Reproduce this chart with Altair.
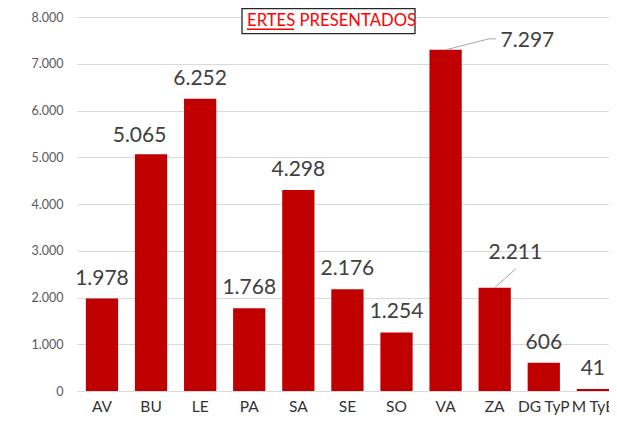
import altair as alt
import pandas as pd

categories = ["AV", "BU", "LE", "PA", "SA", "SE", "SO", "VA", "ZA", "DG TyP", "M TyE"]
values = [1978, 5065, 6252, 1768, 4298, 2176, 1254, 7297, 2211, 606, 41]
y_ticks = [0, 1000, 2000, 3000, 4000, 5000, 6000, 7000, 8000]
title_text = "ERTES PRESENTADOS"

df = pd.DataFrame({"cat": categories, "v": values})

FONT = "Lato"
BAR = "#C00000"
LABEL = "#404040"
LEADER = "#A6A6A6"

xscale = alt.Scale(paddingInner=0.343, paddingOuter=0.0901, align=1)
xaxis = alt.Axis(labelAngle=0, ticks=False, domain=False, grid=False,
                 labelFont=FONT, labelFontSize=15.5, labelColor="#333333",
                 labelPadding=8)

x_enc = alt.X("cat:N", sort=categories, title=None, bandPosition=0.5,
              scale=xscale, axis=xaxis)
x_bar = alt.X("cat:N", sort=categories, title=None, scale=xscale, axis=xaxis)
y_enc = alt.Y(
    "v:Q", title=None,
    scale=alt.Scale(domain=[0, 8000], nice=False),
    axis=alt.Axis(values=y_ticks,
                  labelExpr="replace(format(datum.value, ','), ',', '.')",
                  ticks=False, domain=False, gridColor="#D9D9D9", gridWidth=1,
                  labelFont=FONT, labelFontSize=12.5, labelColor="#595959",
                  labelPadding=14),
)

base = alt.Chart(df).transform_calculate(
    lbl="replace(format(datum.v, ','), ',', '.')"
)

bars = base.mark_bar(color=BAR).encode(x=x_bar, y=y_enc)

lab_main = base.transform_filter(
    "indexof(['BU','VA','ZA'], datum.cat) < 0"
).mark_text(font=FONT, fontSize=21, color=LABEL, baseline="alphabetic", dy=-14).encode(
    x=x_enc, y=y_enc, text="lbl:N"
)

lab_bu = base.transform_filter("datum.cat == 'BU'").mark_text(
    font=FONT, fontSize=21, color=LABEL, baseline="alphabetic", dy=-12.7, dx=-11.5
).encode(x=x_enc, y=y_enc, text="lbl:N")

lab_va = base.transform_filter("datum.cat == 'VA'").mark_text(
    font=FONT, fontSize=21, color=LABEL, baseline="alphabetic", align="left",
    dy=-2.6, dx=55
).encode(x=x_enc, y=y_enc, text="lbl:N")

lab_za = base.transform_filter("datum.cat == 'ZA'").mark_text(
    font=FONT, fontSize=21, color=LABEL, baseline="alphabetic", dy=-29, dx=20.7
).encode(x=x_enc, y=y_enc, text="lbl:N")

lead_va1 = base.transform_filter("datum.cat == 'VA'").mark_rule(
    color=LEADER, strokeWidth=1, x2Offset=43.3, y2Offset=-11
).encode(x=x_enc, y=y_enc, x2=alt.X2("cat", bandPosition=0.5), y2=alt.Y2("v"))

lead_va2 = base.transform_filter("datum.cat == 'VA'").mark_rule(
    color=LEADER, strokeWidth=1, xOffset=43.3, yOffset=-11, x2Offset=50.3, y2Offset=-11
).encode(x=x_enc, y=y_enc, x2=alt.X2("cat", bandPosition=0.5), y2=alt.Y2("v"))

lead_za = base.transform_filter("datum.cat == 'ZA'").mark_rule(
    color=LEADER, strokeWidth=1, x2Offset=21.3, y2Offset=-19
).encode(x=x_enc, y=y_enc, x2=alt.X2("cat", bandPosition=0.5), y2=alt.Y2("v"))

one = alt.Data(values=[{"t": title_text}])

title_box = alt.Chart(one).mark_rect(
    fill="white", stroke="#262626", strokeWidth=1.3
).encode(x=alt.value(165), x2=alt.value(338), y=alt.value(-8.3), y2=alt.value(16.7))

title_txt = alt.Chart(one).mark_text(
    align="left", baseline="alphabetic", font=FONT, fontSize=16.7, color="#FF0000"
).encode(x=alt.value(170), y=alt.value(9.3), text="t:N")

title_ul = alt.Chart(one).mark_rule(color="#FF0000", strokeWidth=1.6).encode(
    x=alt.value(170), x2=alt.value(217), y=alt.value(12.2), y2=alt.value(12.2)
)

chart = alt.layer(
    bars, lead_va1, lead_va2, lead_za, lab_main, lab_bu, lab_va, lab_za,
    title_box, title_txt, title_ul
).properties(
    width=532, height=374,
    padding={"left": 69, "top": 9, "right": 0, "bottom": 25},
    autosize=alt.AutoSizeParams(type="none"),
    background="white",
).configure_view(stroke=None)

chart.save("out.html", embed_options={"renderer": "svg", "actions": False})
